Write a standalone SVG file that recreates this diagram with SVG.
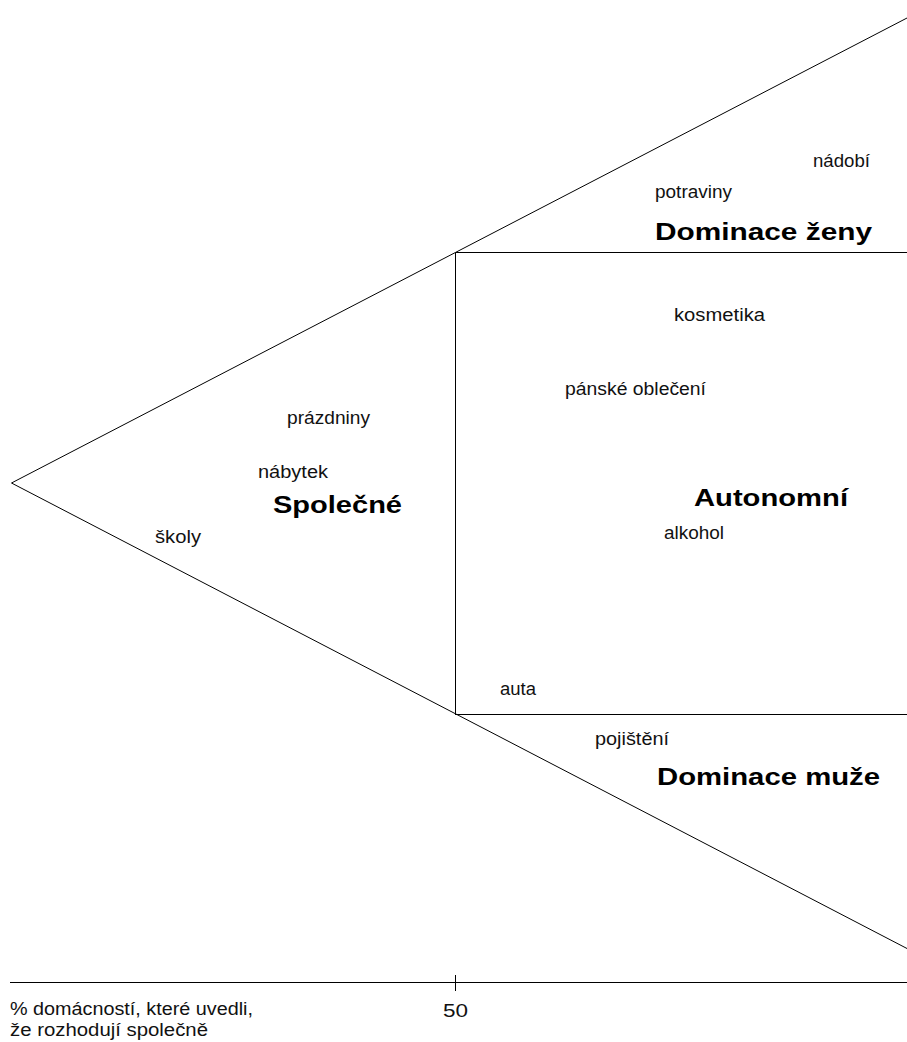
<svg xmlns="http://www.w3.org/2000/svg" width="907" height="1042" viewBox="0 0 907 1042">
  <style>
    .ln { stroke: #000; stroke-width: 1; fill: none; }
    .crisp { shape-rendering: crispEdges; }
    .lbl { font-family: "Liberation Sans", Arial, sans-serif; font-size: 17.5px; fill: #111; }
    .ttl { font-family: "Liberation Sans", Arial, sans-serif; font-size: 24px; font-weight: bold; fill: #000; }
  </style>
  <rect width="907" height="1042" fill="#fff"/>

  <g id="connectors">
    <!-- wedge edges -->
    <line class="ln" x1="11.5" y1="483" x2="907" y2="18"/>
    <line class="ln" x1="11.5" y1="483" x2="907" y2="948.5"/>
    <!-- central box -->
    <line class="ln crisp" x1="455.5" y1="252.5" x2="455.5" y2="714.5"/>
    <line class="ln crisp" x1="455.5" y1="252.5" x2="907" y2="252.5"/>
    <line class="ln crisp" x1="455.5" y1="714.5" x2="907" y2="714.5"/>
    <!-- axis -->
    <line class="ln crisp" x1="10" y1="982.5" x2="907" y2="982.5" stroke="#333"/>
    <line class="ln crisp" x1="455.5" y1="975" x2="455.5" y2="991"/>
  </g>

  <g id="region-zeny">
    <text class="ttl" x="655" y="240" textLength="217" lengthAdjust="spacingAndGlyphs">Dominace ženy</text>
    <text class="lbl" x="813" y="167" textLength="57" lengthAdjust="spacingAndGlyphs">nádobí</text>
    <text class="lbl" x="655" y="198" textLength="77" lengthAdjust="spacingAndGlyphs">potraviny</text>
  </g>

  <g id="region-autonomni">
    <text class="ttl" x="694" y="506" textLength="154" lengthAdjust="spacingAndGlyphs">Autonomní</text>
    <text class="lbl" x="674" y="321" textLength="91" lengthAdjust="spacingAndGlyphs">kosmetika</text>
    <text class="lbl" x="565" y="395" textLength="141" lengthAdjust="spacingAndGlyphs">pánské oblečení</text>
    <text class="lbl" x="664" y="539" textLength="60" lengthAdjust="spacingAndGlyphs">alkohol</text>
    <text class="lbl" x="500" y="695" textLength="36" lengthAdjust="spacingAndGlyphs">auta</text>
  </g>

  <g id="region-spolecne">
    <text class="ttl" x="273" y="513" textLength="129" lengthAdjust="spacingAndGlyphs">Společné</text>
    <text class="lbl" x="287" y="424" textLength="83" lengthAdjust="spacingAndGlyphs">prázdniny</text>
    <text class="lbl" x="258" y="478" textLength="70" lengthAdjust="spacingAndGlyphs">nábytek</text>
    <text class="lbl" x="155" y="543" textLength="46" lengthAdjust="spacingAndGlyphs">školy</text>
  </g>

  <g id="region-muze">
    <text class="ttl" x="657" y="785" textLength="223" lengthAdjust="spacingAndGlyphs">Dominace muže</text>
    <text class="lbl" x="595" y="745" textLength="74" lengthAdjust="spacingAndGlyphs">pojištění</text>
  </g>

  <g id="axis-labels">
    <text class="lbl" x="443" y="1017" textLength="25" lengthAdjust="spacingAndGlyphs">50</text>
    <text class="lbl" x="10" y="1015" textLength="243" lengthAdjust="spacingAndGlyphs">% domácností, které uvedli,</text>
    <text class="lbl" x="10" y="1036" textLength="198" lengthAdjust="spacingAndGlyphs">že rozhodují společně</text>
  </g>
</svg>
